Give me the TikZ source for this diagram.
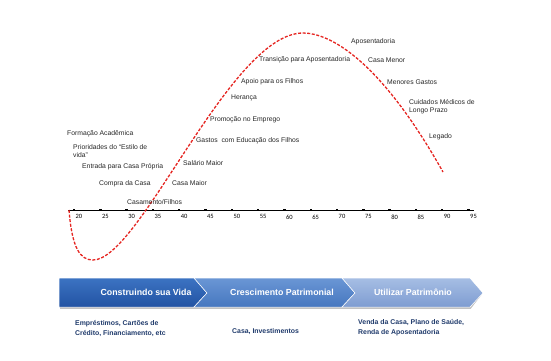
\documentclass[tikz,border=0pt]{standalone}
\usepackage{fontspec}
\setmainfont{Liberation Sans}
\newfontfamily\agefont{Carlito}
\usetikzlibrary{calc, positioning}
\definecolor{lifered}{HTML}{E52521}
\definecolor{navytext}{HTML}{1F3A6B}
\definecolor{blueA}{HTML}{3C73C2}
\definecolor{blueAd}{HTML}{2253A3}
\definecolor{blueB}{HTML}{6A96D5}
\definecolor{blueBd}{HTML}{4677BF}
\definecolor{blueC}{HTML}{A6BEE4}
\definecolor{blueCd}{HTML}{7E9CD1}

\begin{document}
\begin{tikzpicture}[x=1pt, y=-1pt,
  event/.style={anchor=west, inner sep=0pt, align=left, text=black!85,
    font=\fontsize{6.8}{7.8}\selectfont},
  phase/.style={inner sep=0pt, text=white, font=\bfseries\fontsize{8.8}{10}\selectfont},
  asset/.style={anchor=west, inner sep=0pt, align=left, text=navytext,
    font=\bfseries\fontsize{6.9}{10}\selectfont},
  agelabel/.style={anchor=north west, inner sep=0pt, font=\agefont\fontsize{6.5}{7}\selectfont}]
  \useasboundingbox (0,0) rectangle (551,360);
  % age axis
  \coordinate (axisL) at (68,210);
  \coordinate (axisR) at (474,210);
  \draw[line width=0.9pt] (axisL) -- (axisR);
  \foreach \a [count=\i from 0] in {20,25,...,95} {
    \fill ({74+26.3*\i-1.2},208.8) rectangle ++(2.4,2.4);
    \node[agelabel] (age\a) at ({74+26.3*\i+1.5},214.5) {\a};
  }
  % life curve
  \coordinate (start) at (69,210);
  \coordinate (low) at (93,260);
  \coordinate (peak) at (303,33);
  \coordinate (finish) at (443,172);
  \draw[lifered, line width=1.3pt, dash pattern=on 3pt off 1.6pt]
    (start) .. controls (72,248) and (80,260) .. (low)
    .. controls (140,260) and (230,33) .. (peak)
    .. controls (330,33) and (380,60) .. (finish);
  % events on the way up
  \node[event] (formacao) at (67,134) {Formação Acadêmica};
  \node[event] (estilo) at (73,151) {Prioridades do ``Estilo de\\vida''};
  \node[event] (entrada) at (82,167) {Entrada para Casa Própria};
  \node[event] (compra) at (99,184) {Compra da Casa};
  \node[event] (casamento) at (127,202) {Casamento/Filhos};
  \node[event] (casamaior) at (172,183) {Casa Maior};
  \node[event] (salario) at (183,163) {Salário Maior};
  \node[event] (educacao) at (196,141) {Gastos\ \ com Educação dos Filhos};
  \node[event] (promocao) at (210,120) {Promoção no Emprego};
  \node[event] (heranca) at (231,98) {Herança};
  \node[event] (apoio) at (241,82) {Apoio para os Filhos};
  \node[event] (transicao) at (259,60) {Transição para Aposentadoria};
  % events on the way down
  \node[event] (aposentadoria) at (351,42) {Aposentadoria};
  \node[event] (casamenor) at (368,60) {Casa Menor};
  \node[event] (gastos) at (387,82) {Menores Gastos};
  \node[event] (cuidados) at (409,107) {Cuidados Médicos de\\Longo Prazo};
  \node[event] (legado) at (429,137) {Legado};
  % phase arrows
  \fill[black!40, opacity=0.6] (60,280) -- (484,280) -- (484,309) -- (60,309) -- cycle;
  \shade[top color=blueA, bottom color=blueAd, draw=white, line width=0.5pt]
    (59,278) -- (194,278) -- (207,293) -- (194,307) -- (59,307) -- cycle;
  \shade[top color=blueB, bottom color=blueBd, draw=white, line width=0.5pt]
    (194,278) -- (342,278) -- (355,293) -- (342,307) -- (194,307) -- (207,293) -- cycle;
  \shade[top color=blueC, bottom color=blueCd, draw=white, line width=0.5pt]
    (342,278) -- (470,278) -- (483,293) -- (470,307) -- (342,307) -- (355,293) -- cycle;
  \fill[white] (470,278) -- (484,278) -- (484,310) -- (470,310) -- (483,293) -- cycle;
  \node[phase] (construindo) at (146,292) {Construindo sua Vida};
  \node[phase] (crescimento) at (282,292) {Crescimento Patrimonial};
  \node[phase] (utilizar) at (413,292) {Utilizar Patrimônio};
  % what each phase uses
  \node[asset] (emprestimos) at (75,328) {Empréstimos, Cartões de\\Crédito, Financiamento, etc};
  \node[asset] (casainv) at (232,332) {Casa, Investimentos};
  \node[asset] (venda) at (358,328) {Venda da Casa, Plano de Saúde,\\Renda de Aposentadoria};
\end{tikzpicture}
\end{document}
